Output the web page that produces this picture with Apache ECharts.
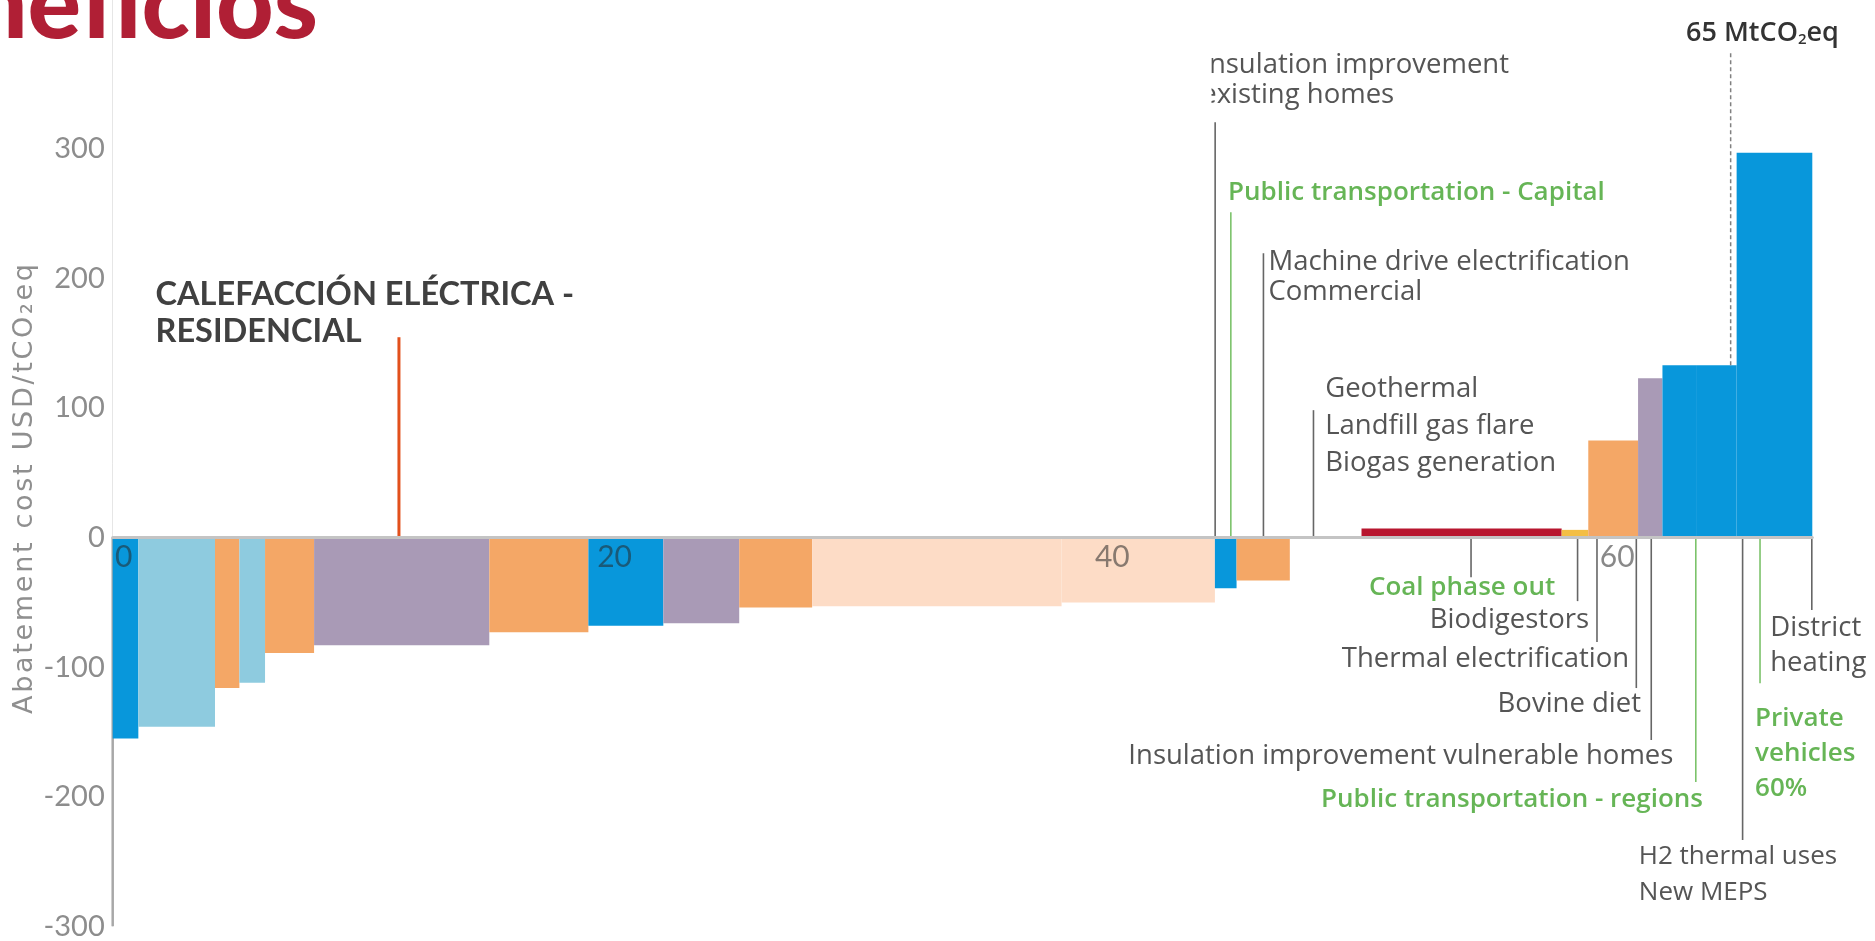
<!DOCTYPE html>
<html>
<head>
<meta charset="utf-8">
<title>Curva de costos de abatimiento</title>
<script src="https://cdn.jsdelivr.net/npm/echarts/dist/echarts.min.js"></script>
<style>
  html, body { margin: 0; padding: 0; background: #ffffff; }
  #chart { width: 1875px; height: 941px; }
</style>
</head>
<body>
<div id="chart"></div>
<script>
// Abatement measures in merit order.
// widths: abatement potential of each measure (MtCO2eq); costs: abatement cost (USD/tCO2eq)
const widths = [1.03, 3.08, 0.98, 1.03, 1.97, 7.04, 3.98, 3.01, 3.05, 2.93, 10.02, 6.16,
                0.87, 2.14, 0.96, 0.96, 0.96, 8.04, 1.07, 2.0, 0.98, 1.35, 1.63, 3.04];
const costs  = [-155, -146, -116, -112, -89, -83, -73, -68, -66, -54, -53, -50,
                -39, -33, 0, 0, 0, 7, 6, 75, 123, 133, 133, 297];
const groups = ['blue', 'lightblue', 'orange', 'lightblue', 'orange', 'purple', 'orange', 'blue',
                'purple', 'orange', 'peach', 'peach', 'blue', 'orange', 'none', 'none', 'none',
                'red', 'yellow', 'orange', 'purple', 'blue', 'blue', 'blue'];

// Axis ticks
const xTickLabels = [0, 20, 40, 60];
const yTickLabels = [-300, -200, -100, 0, 100, 200, 300];

// Call-out texts for labelled measures
const calloutNames = [
  'Insulation improvement\nexisting homes',
  'Public transportation - Capital',
  'Machine drive electrification\nCommercial',
  'Geothermal\nLandfill gas flare\nBiogas generation',
  'Coal phase out',
  'Biodigestors',
  'Thermal electrification',
  'Bovine diet',
  'Insulation improvement vulnerable homes',
  'Public transportation - regions',
  'H2 thermal uses\nNew MEPS',
  'Private\nvehicles\n60%',
  'District\nheating'
];
const highlightName = 'CALEFACCIÓN ELÉCTRICA -\nRESIDENCIAL';
const yAxisTitle = 'Abatement cost USD/tCO₂eq';
const pageTitle = 'Beneficios';
const totalMark = 65;

// ---- presentation ----
const palette = {
  blue: '#0897DB', lightblue: '#8ECBDF', orange: '#F4A766', purple: '#A99AB6',
  peach: '#FDDCC6', red: '#B8162F', yellow: '#F3BE45', none: 'rgba(0,0,0,0)'
};
const GRAY = '#555555', GREEN = '#66B556';
const LABEL_FONT = 'Open Sans';

// leader line [x, yEnd] and text anchor [x, yFirstLine] in axis units
const calloutLayout = [
  { line: [44.29, 320.6], at: [43.73, 364.6], align: 'left',   color: GRAY,  lh: 30 },
  { line: [44.92, 251.2], at: [44.81, 266.6], align: 'left',   color: GREEN, lh: 30, bold: true },
  { line: [46.23, 219.5], at: [46.43, 212.6], align: 'left',   color: GRAY,  lh: 30 },
  { line: [48.24,  98.4], at: [48.71, 114.6], align: 'left',   color: GRAY,  lh: 37 },
  { line: [54.57, -30.5], at: [54.21, -38.2], align: 'center', color: GREEN, lh: 30, bold: true, lineColor: '#666666' },
  { line: [58.85, -49.0], at: [59.31, -63.7], align: 'right',  color: GRAY,  lh: 30 },
  { line: [59.63, -80.6], at: [60.92, -94.0], align: 'right',  color: GRAY,  lh: 30 },
  { line: [61.21, -116.1], at: [61.40, -128.5], align: 'right', color: GRAY, lh: 30 },
  { line: [61.81, -156.2], at: [62.70, -169.0], align: 'right', color: GRAY, lh: 30 },
  { line: [63.60, -188.6], at: [63.89, -202.0], align: 'right', color: GREEN, lh: 30, bold: true },
  { line: [65.48, -233.4], at: [61.31, -246.5], align: 'left',  color: GRAY,  lh: 36, size: 26 },
  { line: [66.18, -112.3], at: [65.98, -140.0], align: 'left',  color: GREEN, lh: 35, bold: true },
  { line: [68.26, -55.9],  at: [66.59, -69.8],  align: 'left',  color: GRAY,  lh: 35 }
];
const highlightLayout = { line: [11.5, 154.7], at: [1.72, 187.3], lh: 37 };
const totalLayout = { lineFrom: 133, lineTo: 376.2, at: [63.21, 389.3] };

// plot frame
const Y_MIN = -300, Y_MAX = 415;
const GRID = { left: 112.7, right: 62.7, top: 0, bottom: 14.7 };
const gridHeight = 941 - GRID.top - GRID.bottom;
const zeroOffset = -gridHeight * (0 - Y_MIN) / (Y_MAX - Y_MIN);

// cumulative positions of each measure along the abatement axis
let acc = 0;
const barData = widths.map((w, i) => {
  const start = acc;
  acc += w;
  return [start, acc, costs[i], i];
});
const total = acc;

const chart = echarts.init(document.getElementById('chart'), null, { renderer: 'canvas' });

function textBlock(p, cfg, text, font) {
  const n = text.split('\n').length;
  return {
    type: 'text',
    x: p[0],
    y: p[1] + (n - 1) * cfg.lh / 2,
    style: Object.assign({
      text: text,
      fill: cfg.color,
      align: cfg.align,
      verticalAlign: 'middle',
      lineHeight: cfg.lh
    }, font)
  };
}

const xLabelBase = { color: 'rgba(40,40,40,0.55)', fontFamily: 'Lato', fontSize: 30 };

const option = {
  animation: false,
  backgroundColor: '#ffffff',
  grid: Object.assign({ containLabel: false, outerBoundsMode: 'none' }, GRID),
  xAxis: {
    type: 'value', min: 0, max: total, interval: 20, z: 10,
    offset: zeroOffset,
    axisLine: { onZero: false, lineStyle: { color: '#c4c4c4', width: 3 } },
    axisTick: { show: false },
    splitLine: { show: false },
    axisLabel: Object.assign({
      showMaxLabel: false,
      margin: 5,
      formatter: function (v) {
        if (xTickLabels.indexOf(v) < 0) return '';
        const key = v === 0 ? 'first' : (v === 60 ? 'late' : 'mid');
        return '{' + key + '|' + v + '}';
      },
      rich: {
        first: Object.assign({ padding: [0, 0, 0, 22] }, xLabelBase),
        mid: Object.assign({ padding: [0, 0, 0, 8] }, xLabelBase),
        late: Object.assign({ padding: [0, 0, 0, 22] }, xLabelBase)
      }
    }, xLabelBase)
  },
  yAxis: {
    type: 'value', min: Y_MIN, max: Y_MAX, interval: 100,
    axisLine: { show: true, onZero: false, lineStyle: { color: '#e6e6e6', width: 1 } },
    axisTick: { show: false },
    splitLine: { show: false },
    axisLabel: {
      showMaxLabel: false,
      formatter: v => yTickLabels.indexOf(v) >= 0 ? String(v) : '',
      color: '#8d8d8d', fontFamily: 'Lato', fontSize: 29, margin: 8
    }
  },
  graphic: [
    {
      type: 'text', x: 318, y: 56, z: 20,
      style: {
        text: pageTitle, fill: '#B01F35', fontFamily: 'Lato', fontWeight: 900,
        fontSize: 100, align: 'right', verticalAlign: 'bottom'
      }
    },
    {
      // axis title lives on its own layer so it can be letter-spaced
      id: 'yTitle', type: 'text', x: 25, y: 714, rotation: Math.PI / 2, zlevel: 1,
      style: {
        text: yAxisTitle, align: 'left', verticalAlign: 'middle',
        fontFamily: 'DejaVu Sans', fontSize: 27, fill: '#8f8f8f'
      }
    },
    {
      // white panel that trims the top-right call-out at its left edge
      type: 'rect', z: 100, shape: { x: 1120, y: 40, width: 91.5, height: 72 },
      style: { fill: '#ffffff' }
    }
  ],
  series: [
    {
      type: 'custom',
      name: 'measures',
      renderItem: function (params, api) {
        const s = api.value(0), e = api.value(1), c = api.value(2), i = api.value(3);
        const p0 = api.coord([s, c]);
        const p1 = api.coord([e, 0]);
        return {
          type: 'rect',
          shape: { x: p0[0], y: Math.min(p0[1], p1[1]), width: p1[0] - p0[0], height: Math.abs(p1[1] - p0[1]) },
          style: { fill: palette[groups[i]] }
        };
      },
      encode: { x: [0, 1], y: 2 },
      data: barData,
      z: 2
    },
    {
      type: 'line',
      name: 'axis-below',
      data: [[0, Y_MIN], [0, 0]],
      symbol: 'none',
      clip: false,
      lineStyle: { color: '#a8a8a8', width: 2.5 },
      z: 1
    },
    {
      type: 'custom',
      name: 'callouts',
      renderItem: function (params, api) {
        const idx = api.value(2);
        const cfg = calloutLayout[idx];
        const a = api.coord([cfg.line[0], 0]);
        const b = api.coord([cfg.line[0], cfg.line[1]]);
        const t = api.coord(cfg.at);
        return {
          type: 'group',
          children: [
            {
              type: 'line',
              shape: { x1: a[0], y1: a[1], x2: b[0], y2: b[1] },
              style: { stroke: cfg.lineColor || (cfg.color === GREEN ? '#7CC36B' : '#666666'), lineWidth: 1.6 }
            },
            textBlock(t, cfg, calloutNames[idx], {
              fontFamily: LABEL_FONT,
              fontSize: cfg.size || (cfg.bold ? 26 : 27.5),
              fontWeight: cfg.bold ? 600 : 400
            })
          ]
        };
      },
      encode: { x: 0, y: 1 },
      data: calloutLayout.map((c, i) => [c.line[0], c.line[1], i]),
      z: 5
    },
    {
      type: 'custom',
      name: 'highlight',
      renderItem: function (params, api) {
        const a = api.coord([highlightLayout.line[0], 0]);
        const b = api.coord([highlightLayout.line[0], highlightLayout.line[1]]);
        const t = api.coord(highlightLayout.at);
        return {
          type: 'group',
          children: [
            { type: 'line', shape: { x1: a[0], y1: a[1], x2: b[0], y2: b[1] },
              style: { stroke: '#E2501C', lineWidth: 3 } },
            textBlock(t, { color: '#404040', align: 'left', lh: highlightLayout.lh }, highlightName, {
              fontFamily: 'Lato', fontSize: 32.5, fontWeight: 'bold'
            })
          ]
        };
      },
      encode: { x: 0, y: 1 },
      data: [[highlightLayout.line[0], highlightLayout.line[1]]],
      z: 6
    },
    {
      type: 'custom',
      name: 'total',
      renderItem: function (params, api) {
        const a = api.coord([totalMark, totalLayout.lineFrom]);
        const b = api.coord([totalMark, totalLayout.lineTo]);
        const t = api.coord(totalLayout.at);
        return {
          type: 'group',
          children: [
            { type: 'line', shape: { x1: a[0], y1: a[1], x2: b[0], y2: b[1] },
              style: { stroke: '#808080', lineWidth: 1.5, lineDash: [4, 3] } },
            { type: 'text', x: t[0], y: t[1],
              style: {
                text: '{n|' + totalMark + ' MtCO}{sub|2}{n|eq}',
                align: 'left', verticalAlign: 'middle',
                rich: {
                  n: { fontFamily: LABEL_FONT, fontSize: 27, fontWeight: 600, fill: '#333333' },
                  sub: { fontFamily: LABEL_FONT, fontSize: 15, fontWeight: 600, fill: '#333333', verticalAlign: 'bottom', padding: [12, 0, 0, 0] }
                }
              } }
          ]
        };
      },
      encode: { x: 0, y: 1 },
      data: [[totalMark, totalLayout.lineTo]],
      z: 6
    }
  ]
};

chart.setOption(option);

// widen the tracking of the rotated axis title
(function () {
  const painter = chart.getZr().painter;
  const layer = painter && painter.getLayer ? painter.getLayer(1) : null;
  if (layer && layer.ctx && ('letterSpacing' in layer.ctx)) {
    layer.ctx.letterSpacing = '2.7px';
    painter.refresh(true);
  }
})();
</script>
</body>
</html>
